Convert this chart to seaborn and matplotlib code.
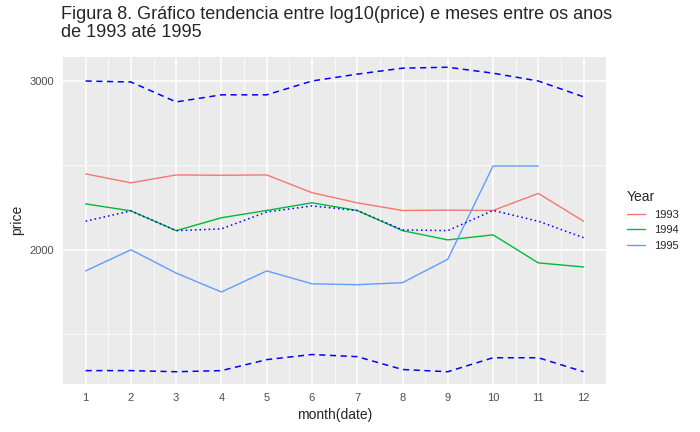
import numpy as np
import pandas as pd
import matplotlib
matplotlib.use("Agg")
import matplotlib.pyplot as plt
import seaborn as sns
from matplotlib.ticker import FixedLocator, NullFormatter

months = list(range(1, 13))
price_1993 = [2400, 2349, 2394, 2392, 2394, 2294, 2239, 2198, 2200, 2198, 2290, 2142]
price_1994 = [2233, 2196, 2094, 2160, 2198, 2239, 2198, 2094, 2048, 2073, 1938, 1919]
price_1995 = [1901, 2000, 1891, 1807, 1901, 1843, 1839, 1848, 1955, 2446, 2446]
mean_line = [2142, 2196, 2094, 2103, 2190, 2222, 2198, 2098, 2094, 2198, 2142, 2059]
upper = [3000, 2993, 2853, 2902, 2902, 3000, 3050, 3094, 3101, 3057, 3000, 2888]
lower = [1496, 1496, 1492, 1496, 1536, 1555, 1547, 1500, 1492, 1543, 1543, 1492]

df = pd.DataFrame({
    "month": months * 2 + months[:11],
    "price": price_1993 + price_1994 + price_1995,
    "Year": ["1993"] * 12 + ["1994"] * 12 + ["1995"] * 11,
})

sns.set_theme(style="darkgrid", rc={"axes.facecolor": "#EBEBEB", "grid.color": "white"})
plt.rcParams["font.family"] = ["Liberation Sans", "DejaVu Sans"]

fig, ax = plt.subplots(figsize=(7, 4.32), dpi=100)
fig.subplots_adjust(left=0.09, right=0.866, top=0.868, bottom=0.112)

palette = {"1993": "#F8766D", "1994": "#00BA38", "1995": "#619CFF"}
sns.lineplot(data=df, x="month", y="price", hue="Year", palette=palette, ax=ax, linewidth=1)
ax.plot(months, mean_line, color="blue", linestyle=(0, (1, 2)), linewidth=1.1)
ax.plot(months, upper, color="blue", linestyle=(0, (4, 3)), linewidth=1.1)
ax.plot(months, lower, color="blue", linestyle=(0, (4, 3)), linewidth=1.1)

ax.set_yscale("log")
ax.set_ylim(1450, 3178)
ax.set_xlim(0.5, 12.5)
ax.yaxis.set_major_locator(FixedLocator([2000, 3000]))
ax.yaxis.set_minor_locator(FixedLocator([1633, 2449]))
ax.yaxis.set_minor_formatter(NullFormatter())
ax.set_yticklabels(["2000", "3000"])
ax.set_xticks(months)
ax.set_xticks([m + 0.5 for m in months[:-1]], minor=True)
ax.grid(which="major", color="white", linewidth=1.1)
ax.grid(which="minor", color="white", linewidth=0.5)
ax.tick_params(axis="both", labelsize=8, colors="#4D4D4D", length=3, which="major")
ax.tick_params(which="minor", length=0)
ax.set_xlabel("month(date)", fontsize=10)
ax.set_ylabel("price", fontsize=10)
for s in ax.spines.values():
    s.set_visible(False)

fig.text(0.087, 0.905, "Figura 8. Gráfico tendencia entre log10(price) e meses entre os anos\nde 1993 até 1995",
         fontsize=13, ha="left", va="bottom", linespacing=1.05)

leg = ax.legend(title="Year", loc="center left", bbox_to_anchor=(1.02, 0.5), frameon=False,
                fontsize=8, title_fontsize=10, handlelength=1.6)
leg._legend_box.align = "left"
for h in leg.legend_handles:
    h.set_linewidth(1)

fig.savefig("out.png")
